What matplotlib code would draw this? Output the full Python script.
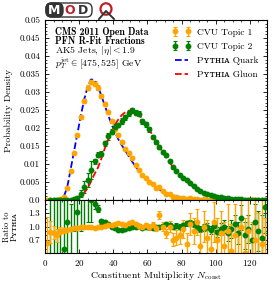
import numpy as np
import matplotlib

matplotlib.use("Agg")

import matplotlib.pyplot as plt
from matplotlib.patches import FancyBboxPatch, Circle
from matplotlib.ticker import MultipleLocator, FixedLocator, FuncFormatter

plt.rcParams["font.family"] = ["cmr10", "DejaVu Serif"]
plt.rcParams["mathtext.fontset"] = "cm"
plt.rcParams["axes.formatter.use_mathtext"] = True
plt.rcParams["axes.unicode_minus"] = False

# bin centres of the constituent multiplicity histogram
n_const = np.arange(1, 130, 2)

pythia_quark = [
    0.0, 0.0, 0.0, 0.00005, 0.0002, 0.0009, 0.0035, 0.0085, 0.0135, 0.0185,
    0.0235, 0.028, 0.0315, 0.0335, 0.0333, 0.0315, 0.029, 0.0262, 0.0236, 0.021,
    0.0188, 0.0168, 0.0152, 0.0137, 0.0122, 0.0107, 0.0093, 0.0081, 0.007, 0.0059,
    0.005, 0.0042, 0.0035, 0.0029, 0.0024, 0.002, 0.0016, 0.0013, 0.00105, 0.00085,
    0.0007, 0.00055, 0.00044, 0.00035, 0.00028, 0.00022, 0.00017, 0.00013, 0.0001, 0.00008,
    0.00006, 0.00005, 0.00004, 0.00003, 0.000025, 0.00002, 0.000015, 0.000012, 0.00001, 0.00001,
    0.00001, 0.00001, 0.00001, 0.00001, 0.00001,
]
pythia_gluon = [
    0.00001, 0.00001, 0.00001, 0.00001, 0.00001, 0.00001, 0.00002, 0.00004, 0.0001, 0.0005,
    0.001, 0.002, 0.0033, 0.0052, 0.0072, 0.009, 0.0115, 0.0143, 0.0168, 0.019,
    0.021, 0.0224, 0.0236, 0.0244, 0.0248, 0.0249, 0.0245, 0.0237, 0.0226, 0.0212,
    0.0196, 0.018, 0.0164, 0.0148, 0.0132, 0.0118, 0.0104, 0.0091, 0.008, 0.0069,
    0.006, 0.0051, 0.0043, 0.0036, 0.003, 0.0025, 0.0021, 0.0018, 0.0015, 0.0012,
    0.001, 0.0008, 0.00064, 0.0005, 0.0004, 0.00032, 0.00025, 0.0002, 0.00016, 0.00013,
    0.0001, 0.00008, 0.00006, 0.00005, 0.00004,
]

# ratios of the CVU topics to Pythia
ratio_topic1 = [
    0.62, 0.88, 0.86, 0.80, 0.90, 0.91, 0.93, 0.95, 0.96, 0.97,
    0.98, 0.98, 0.99, 0.98, 0.97, 0.99, 1.00, 1.02, 1.03, 1.04,
    1.05, 1.08, 1.06, 1.04, 1.08, 1.10, 1.05, 1.02, 1.00, 1.03,
    0.98, 1.04, 0.97, 1.25, 1.00, 0.85, 1.00, 0.70, 0.75, 0.80,
    0.95, 0.60, 1.05, 0.90, 1.10, 0.55, 1.00, 0.75, 0.50, 1.10,
    0.70, 0.85, 0.55, 0.90, 0.45, 0.80, 0.30, 1.00, 0.40, 0.90,
    0.20, 0.70, 0.30, 0.60, 0.00,
]
ratio_topic1_err = [
    0.60, 0.25, 0.15, 0.15, 0.08, 0.05, 0.03, 0.03, 0.02, 0.02,
    0.02, 0.02, 0.02, 0.02, 0.02, 0.02, 0.02, 0.02, 0.02, 0.02,
    0.02, 0.03, 0.03, 0.03, 0.03, 0.03, 0.03, 0.04, 0.04, 0.05,
    0.05, 0.06, 0.07, 0.09, 0.10, 0.10, 0.12, 0.15, 0.18, 0.20,
    0.20, 0.25, 0.25, 0.30, 0.30, 0.35, 0.35, 0.40, 0.45, 0.45,
    0.50, 0.50, 0.55, 0.60, 0.60, 0.70, 0.70, 0.80, 0.80, 0.90,
    0.90, 1.00, 1.00, 1.10, 1.20,
]
ratio_topic2 = [
    np.nan, 0.30, 2.00, 0.00, 1.80, 0.50, 1.10, 0.30, 1.90, 1.33,
    1.80, 1.80, 1.70, 1.60, 1.50, 1.40, 1.12, 1.10, 1.05, 1.00,
    0.96, 0.93, 0.93, 0.94, 0.97, 1.00, 0.99, 1.01, 0.97, 0.99,
    1.00, 0.97, 0.98, 0.99, 1.01, 1.05, 1.04, 1.00, 1.02, 1.00,
    1.03, 1.07, 1.08, 1.06, 1.00, 0.95, 0.98, 1.00, 0.92, 1.02,
    0.88, 0.95, 1.00, 0.85, 0.95, 1.05, 0.85, 1.20, 0.80, 0.95,
    0.70, 1.10, 0.90, 0.75, 1.45,
]
ratio_topic2_err = [
    np.nan, 2.0, 2.0, 2.0, 2.0, 1.5, 1.2, 1.2, 1.0, 1.0,
    0.9, 0.8, 0.6, 0.5, 0.10, 0.08, 0.06, 0.05, 0.05, 0.04,
    0.04, 0.03, 0.03, 0.03, 0.03, 0.03, 0.03, 0.03, 0.03, 0.03,
    0.03, 0.03, 0.03, 0.03, 0.04, 0.04, 0.04, 0.04, 0.05, 0.05,
    0.05, 0.05, 0.06, 0.06, 0.07, 0.07, 0.08, 0.09, 0.10, 0.11,
    0.12, 0.14, 0.15, 0.17, 0.20, 0.22, 0.25, 0.28, 0.30, 0.32,
    0.35, 0.40, 0.45, 0.50, 0.60,
]

quark = np.array(pythia_quark)
gluon = np.array(pythia_gluon)
topic1 = quark * np.array(ratio_topic1)
topic1_err = quark * np.array(ratio_topic1_err)
topic2 = gluon * np.array(ratio_topic2)
topic2_err = gluon * np.array(ratio_topic2_err)

W, H = 274, 285
fig = plt.figure(figsize=(W / 100, H / 100), dpi=100)
ax = fig.add_axes([45 / W, (H - 200) / H, 222 / W, 180 / H])
rax = fig.add_axes([45 / W, (H - 253) / H, 222 / W, 53 / H], sharex=ax)

pt_style = dict(fmt="o", ms=3.2, capsize=1.5, elinewidth=1.0, capthick=0.8)
ax.errorbar(n_const, topic1, yerr=topic1_err, color="orange", label="CVU Topic 1", **pt_style)
ax.errorbar(n_const, topic2, yerr=topic2_err, color="green", label="CVU Topic 2", **pt_style)
ax.plot(n_const, quark, "--", color="blue", lw=1.3, label="Pʏᴛʜɪᴀ Quark")
ax.plot(n_const, gluon, "--", color="red", lw=1.3, label="Pʏᴛʜɪᴀ Gluon")

rax.errorbar(n_const, ratio_topic2, yerr=ratio_topic2_err, color="green", **pt_style)
rax.errorbar(n_const, ratio_topic1, yerr=ratio_topic1_err, color="orange", **pt_style)

ax.set_xlim(0, 130)
ax.set_ylim(0, 0.05)
rax.set_ylim(0.4, 1.6)

ax.yaxis.set_major_locator(MultipleLocator(0.005))
ax.yaxis.set_minor_locator(MultipleLocator(0.001))
ax.yaxis.set_major_formatter(FuncFormatter(lambda v, p: "0.0" if abs(v) < 1e-9 else "%g" % v))
ax.xaxis.set_major_locator(MultipleLocator(20))
ax.xaxis.set_minor_locator(MultipleLocator(5))
rax.yaxis.set_major_locator(FixedLocator([0.7, 1.0, 1.3]))
rax.yaxis.set_minor_locator(MultipleLocator(0.1))
rax.yaxis.set_major_formatter(FuncFormatter(lambda v, p: "%.1f" % v))

for a in (ax, rax):
    a.tick_params(which="both", direction="in", top=True, right=True, labelsize=6.5)
    a.tick_params(which="major", length=3, width=0.6)
    a.tick_params(which="minor", length=1.6, width=0.5)
    for s in a.spines.values():
        s.set_linewidth(0.8)
plt.setp(ax.get_xticklabels(), visible=False)

ax.set_ylabel("Probability Density", fontsize=7, labelpad=2)
rax.set_ylabel("Ratio to\nPʏᴛʜɪᴀ", fontsize=6, labelpad=3, linespacing=0.9)
rax.set_xlabel(r"Constituent Multiplicity $N_{\mathrm{const}}$", fontsize=7, labelpad=1)
ax.yaxis.set_label_coords(-0.145, 0.5)
rax.yaxis.set_label_coords(-0.12, 0.5)

box_x = 0.045
ax.text(box_x, 0.962, "CMS 2011 Open Data", family="cmb10", transform=ax.transAxes, fontsize=7, va="top")
ax.text(box_x, 0.912, "PFN R-Fit Fractions", family="cmb10", transform=ax.transAxes, fontsize=7, va="top")
ax.text(box_x, 0.862, r"AK5 Jets, $|\eta| < 1.9$", transform=ax.transAxes, fontsize=7, va="top")
ax.text(box_x, 0.800, r"$p_T^{\mathrm{jet}} \in [475, 525]$ GeV", transform=ax.transAxes, fontsize=7, va="top")

handles, labels = ax.get_legend_handles_labels()
order = [labels.index(l) for l in ["CVU Topic 1", "CVU Topic 2", "Pʏᴛʜɪᴀ Quark", "Pʏᴛʜɪᴀ Gluon"]]
ax.legend([handles[i] for i in order], [labels[i] for i in order],
          loc="upper right", frameon=False, fontsize=6.8, numpoints=2, handlelength=2.0,
          handletextpad=0.7, labelspacing=0.6, borderaxespad=0.45)

# MOD logo above the axes
fig.patches.append(FancyBboxPatch((46 / W, (H - 17) / H), 46 / W, 14 / H,
                                  boxstyle="round,pad=0,rounding_size=0.02",
                                  transform=fig.transFigure, fc="white", ec="#333333", lw=1.0))
fig.patches.append(FancyBboxPatch((46 / W, (H - 17) / H), 17 / W, 14 / H,
                                  boxstyle="round,pad=0,rounding_size=0.02",
                                  transform=fig.transFigure, fc="#333333", ec="#333333", lw=1.0))
logo_font = dict(family="DejaVu Sans", weight="bold", fontsize=9, va="center", ha="center")
fig.text(54.5 / W, (H - 10) / H, "M", color="white", **logo_font)
fig.text(70 / W, (H - 10) / H, "O", color="#c0202a", **logo_font)
fig.text(83 / W, (H - 10) / H, "D", color="#333333", **logo_font)
fig.patches.append(Circle((106 / W, (H - 9) / H), 5.5 / W, transform=fig.transFigure,
                          fc="none", ec="#c0202a", lw=1.6))
fig.lines.append(plt.Line2D([99 / W, 106 / W, 114 / W], [(H - 19) / H, (H - 11) / H, (H - 19) / H],
                            transform=fig.transFigure, color="#333333", lw=1.4))

fig.savefig("out.png", dpi=100)
